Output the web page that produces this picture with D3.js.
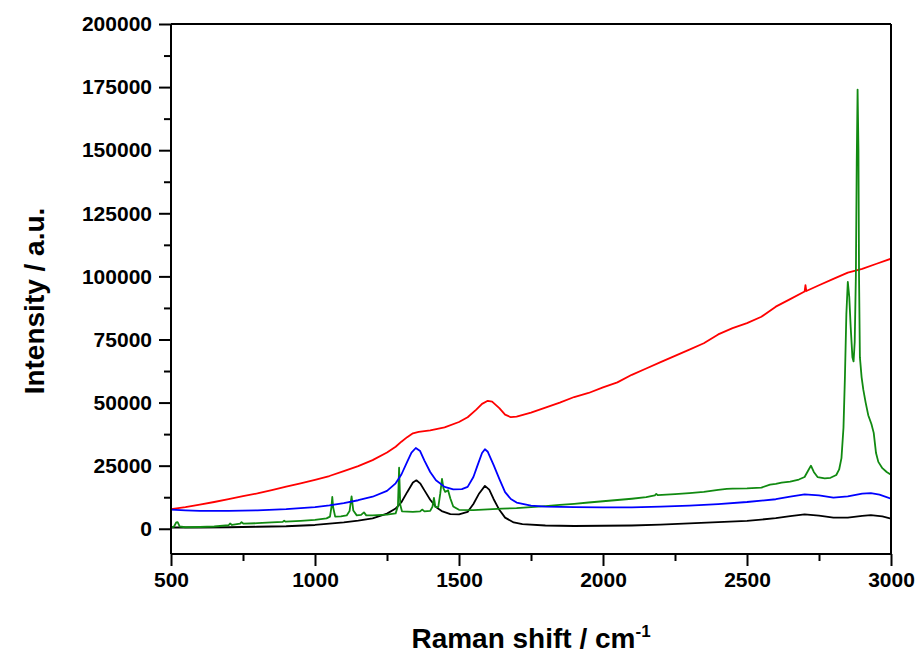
<!DOCTYPE html>
<html>
<head>
<meta charset="utf-8">
<script src="https://cdn.jsdelivr.net/npm/d3@7"></script>
<style>
  html, body { margin: 0; padding: 0; background: #fff; }
  svg { display: block; }
  text { font-family: "Liberation Sans", Arial, sans-serif; font-weight: bold; fill: #000; }
</style>
</head>
<body>
<svg id="chart" width="919" height="657"></svg>
<script>
// Raman spectra: [shift (cm-1), intensity (a.u.)]
const redSpectrum = [
  [500,7800],[550,8600],[600,9600],[650,10600],[700,11700],[750,12900],[800,14000],[850,15300],
  [900,16700],[950,18000],[1000,19400],[1050,20900],[1100,22800],[1150,24800],[1200,27200],
  [1250,30200],[1280,32500],[1300,34500],[1320,36300],[1340,37800],[1360,38400],[1400,39000],
  [1450,40200],[1500,42300],[1530,44200],[1560,47200],[1580,49500],[1600,50700],[1615,50400],
  [1640,47800],[1660,45200],[1680,44200],[1700,44400],[1750,46000],[1800,48000],[1850,50000],
  [1900,52200],[1950,53800],[2000,56000],[2050,58000],[2100,61000],[2150,63500],[2200,66000],
  [2250,68500],[2300,71000],[2350,73500],[2400,77000],[2450,79500],[2500,81500],[2550,84000],
  [2600,88000],[2650,91000],[2700,94000],[2703,96500],[2706,94200],[2750,96500],[2800,99000],
  [2850,101500],[2900,103000],[2950,105000],[3000,107000]
];
const blueSpectrum = [
  [500,7600],[550,7300],[600,7100],[700,7100],[800,7300],[900,7800],[950,8200],[1000,8600],
  [1050,9300],[1100,10200],[1150,11300],[1200,12700],[1250,15000],[1280,18000],[1300,21500],
  [1320,26500],[1335,30200],[1350,32000],[1365,30800],[1380,27000],[1400,22500],[1420,19200],
  [1450,16600],[1480,15600],[1510,15700],[1530,16600],[1550,20500],[1565,25300],[1580,30000],
  [1590,31500],[1600,30500],[1620,25300],[1640,19800],[1660,14500],[1680,11800],[1700,10400],
  [1750,9200],[1800,8800],[1900,8600],[2000,8500],[2100,8500],[2200,8800],[2300,9200],
  [2400,9800],[2500,10600],[2600,11700],[2650,12700],[2700,13600],[2750,13200],[2800,12300],
  [2850,12800],[2900,13900],[2930,14100],[2960,13500],[3000,11900]
];
const blackSpectrum = [
  [500,500],[600,500],[700,600],[800,800],[900,1000],[1000,1500],[1100,2500],[1150,3200],
  [1200,4100],[1250,6000],[1280,8000],[1300,10500],[1320,14500],[1340,18300],[1352,19200],
  [1365,18000],[1380,15200],[1400,11500],[1420,8600],[1440,7000],[1470,5800],[1500,5700],
  [1530,6700],[1550,9800],[1570,14000],[1590,17000],[1605,15500],[1620,11800],[1640,7500],
  [1660,4400],[1690,2500],[1720,1800],[1800,1300],[1900,1100],[2000,1200],[2100,1300],
  [2200,1600],[2300,2100],[2400,2600],[2500,3100],[2600,4200],[2650,5000],[2700,5700],
  [2750,5200],[2800,4400],[2850,4400],[2900,5100],[2930,5400],[2970,4900],[3000,4000]
];
const greenSpectrum = [
  [500,600],[510,800],[518,2500],[523,2600],[530,900],[550,600],[600,700],[650,900],[700,1400],
  [705,2100],[712,1500],[740,2000],[745,2600],[752,2000],[800,2200],[850,2500],[888,2700],
  [893,3200],[898,2800],[950,3100],[1000,3500],[1040,4100],[1052,4800],[1057,8500],[1060,12600],
  [1063,8500],[1070,4800],[1090,4900],[1110,5300],[1120,7000],[1127,12800],[1133,7200],
  [1145,5300],[1160,5500],[1170,6500],[1178,5300],[1200,5300],[1250,5600],[1280,6100],
  [1288,9000],[1292,24200],[1296,9500],[1302,6900],[1340,6700],[1365,6900],[1372,7600],
  [1380,6900],[1400,7100],[1408,8800],[1413,12200],[1418,8600],[1428,8600],[1435,14000],
  [1441,19800],[1446,16000],[1452,14600],[1462,15300],[1470,12000],[1480,8800],[1500,7500],
  [1550,7400],[1600,7700],[1650,8000],[1700,8200],[1750,8600],[1800,9000],[1850,9500],
  [1900,9900],[1950,10400],[2000,10900],[2050,11400],[2100,11900],[2150,12500],[2180,13200],
  [2185,13800],[2190,13300],[2250,13700],[2300,14100],[2350,14600],[2400,15400],[2430,15800],
  [2450,15900],[2500,16000],[2550,16300],[2580,17500],[2600,17800],[2620,18300],[2650,18700],
  [2680,19500],[2700,20500],[2712,23000],[2722,25000],[2732,22500],[2745,20500],[2770,20000],
  [2790,20200],[2810,21300],[2820,23500],[2828,28000],[2835,40000],[2840,60000],[2845,85000],
  [2850,97800],[2855,92000],[2860,80000],[2866,68000],[2870,66300],[2874,74000],[2878,100000],
  [2881,145000],[2884,174000],[2887,150000],[2889,100000],[2892,68000],[2898,60000],
  [2904,55000],[2912,50000],[2921,45000],[2932,41500],[2940,38000],[2948,30000],[2956,26500],
  [2970,24000],[2985,22500],[3000,21400]
];

const xMajorTicks = [500, 1000, 1500, 2000, 2500, 3000];
const xMinorTicks = [750, 1250, 1750, 2250, 2750];
const yMajorTicks = [0, 25000, 50000, 75000, 100000, 125000, 150000, 175000, 200000];
const yMinorTicks = [12500, 37500, 62500, 87500, 112500, 137500, 162500, 187500];

const series = [
  { data: redSpectrum, color: "#ff0000" },
  { data: blackSpectrum, color: "#000000" },
  { data: greenSpectrum, color: "#118a11" },
  { data: blueSpectrum, color: "#0000ff" }
];

const plotLeft = 171, plotRight = 891, plotTop = 24, plotBottom = 554;
const svg = d3.select("#chart");

const x = d3.scaleLinear().domain([500, 3000]).range([plotLeft, plotRight]);
const y = d3.scaleLinear().domain([-10000, 200000]).range([plotBottom, plotTop]);

svg.append("defs").append("clipPath").attr("id", "plotClip")
  .append("rect").attr("x", plotLeft).attr("y", plotTop)
  .attr("width", plotRight - plotLeft).attr("height", plotBottom - plotTop);

// spectra
const line = d3.line().x(d => x(d[0])).y(d => y(d[1]));
const plot = svg.append("g").attr("clip-path", "url(#plotClip)");
series.forEach(s => {
  plot.append("path").datum(s.data)
    .attr("d", line)
    .attr("fill", "none")
    .attr("stroke", s.color)
    .attr("stroke-width", 1.8)
    .attr("stroke-linejoin", "round");
});

// frame (top and right sides)
svg.append("line").attr("x1", plotLeft).attr("x2", plotRight).attr("y1", plotTop).attr("y2", plotTop)
  .attr("stroke", "#000").attr("stroke-width", 2);
svg.append("line").attr("x1", plotRight).attr("x2", plotRight).attr("y1", plotTop).attr("y2", plotBottom)
  .attr("stroke", "#000").attr("stroke-width", 2);

// bottom axis
const xAxisMinor = d3.axisBottom(x).tickValues(xMinorTicks).tickSize(7).tickFormat("");
const xAxis = d3.axisBottom(x).tickValues(xMajorTicks).tickSize(12).tickPadding(6).tickFormat(d3.format("d"));
const gxm = svg.append("g").attr("transform", `translate(0,${plotBottom})`).call(xAxisMinor);
const gx = svg.append("g").attr("transform", `translate(0,${plotBottom})`).call(xAxis);

// left axis
const yAxisMinor = d3.axisLeft(y).tickValues(yMinorTicks).tickSize(7).tickFormat("");
const yAxis = d3.axisLeft(y).tickValues(yMajorTicks).tickSize(12).tickPadding(7).tickFormat(d3.format("d"));
const gym = svg.append("g").attr("transform", `translate(${plotLeft},0)`).call(yAxisMinor);
const gy = svg.append("g").attr("transform", `translate(${plotLeft},0)`).call(yAxis);

[gx, gxm, gy, gym].forEach(g => {
  g.select(".domain").attr("stroke", "#000").attr("stroke-width", 2);
  g.selectAll(".tick line").attr("stroke", "#000").attr("stroke-width", 2);
  g.selectAll(".tick text").style("font-size", "21px").style("font-weight", "bold")
    .style("font-family", '"Liberation Sans", Arial, sans-serif').attr("fill", "#000");
});
gx.select(".domain").attr("d", `M${plotLeft},0H${plotRight}`);
gxm.select(".domain").remove();
gy.select(".domain").attr("d", `M0,${plotTop}V${plotBottom}`);
gym.select(".domain").remove();

// axis titles
const xTitle = svg.append("text")
  .attr("x", (plotLeft + plotRight) / 2).attr("y", 648)
  .attr("text-anchor", "middle")
  .style("font-size", "28px");
xTitle.append("tspan").text("Raman shift / cm");
xTitle.append("tspan").attr("dy", -11).style("font-size", "17px").text("-1");

svg.append("text")
  .attr("transform", `translate(44,${(plotTop + plotBottom) / 2 + 12}) rotate(-90)`)
  .attr("text-anchor", "middle")
  .style("font-size", "28px")
  .text("Intensity / a.u.");
</script>
</body>
</html>
